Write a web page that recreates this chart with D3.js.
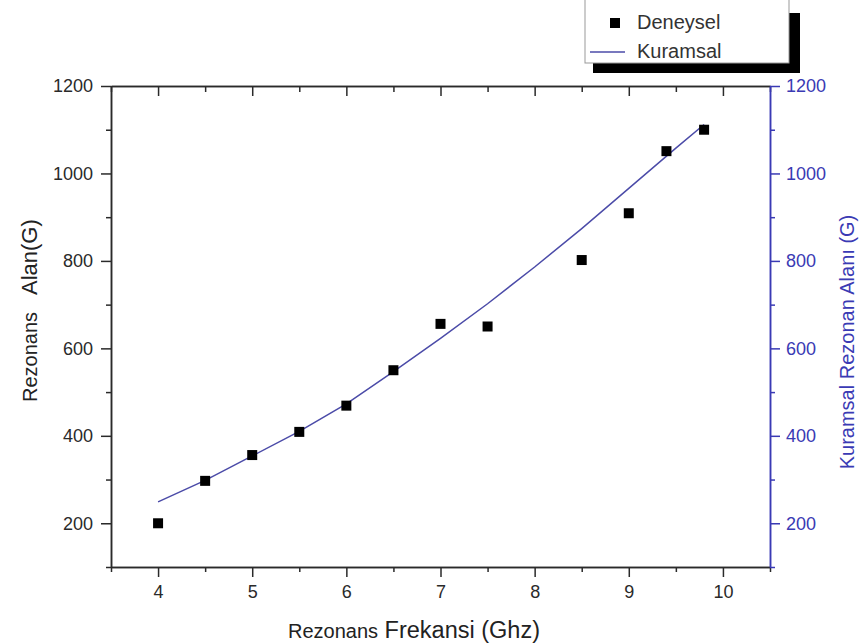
<!DOCTYPE html>
<html>
<head>
<meta charset="utf-8">
<script src="https://cdn.jsdelivr.net/npm/d3@7"></script>
<style>
  body { margin: 0; background: #fff; }
  svg { display: block; }
</style>
</head>
<body>
<script>
// measured points (Deneysel)
const freq = [4, 4.5, 5, 5.5, 6, 6.5, 7, 7.5, 8.5, 9, 9.4, 9.8];
const deneysel = [200, 297, 356, 409, 469, 550, 656, 650, 802, 909, 1051, 1100];

// theoretical curve (Kuramsal)
const kuramsalFreq = [4, 4.5, 5, 5.5, 6, 6.5, 7, 7.5, 8, 8.5, 9, 9.5, 9.8];
const kuramsal = [249, 298, 354, 410, 473, 547, 623, 702, 786, 874, 966, 1058, 1112];

// ticks
const xMajor = [4, 5, 6, 7, 8, 9, 10];
const xMinor = [3.5, 4.5, 5.5, 6.5, 7.5, 8.5, 9.5, 10.5];
const yMajor = [200, 400, 600, 800, 1000, 1200];
const yMinor = [100, 300, 500, 700, 900, 1100];

const legendLabels = ["Deneysel", "Kuramsal"];

const W = 859, H = 644;
const plot = { left: 111, right: 770, top: 86, bottom: 567 };
const FONT = "'Liberation Sans', Arial, sans-serif";
const axisColor = "#2a2a2a";
const blue = "#3a3ab4";
const lineColor = "#4b4ba8";

const svg = d3.select("body").append("svg")
  .attr("width", W)
  .attr("height", H)
  .attr("font-family", FONT);

svg.append("rect").attr("width", W).attr("height", H).attr("fill", "#fff");

const xScale = d3.scaleLinear().domain([3.5, 10.5]).range([plot.left, plot.right]);
const yScale = d3.scaleLinear().domain([100, 1200]).range([plot.bottom, plot.top]);

// style helper for axis groups
const styleAxis = (g, color, size) => {
  g.attr("font-family", FONT).attr("font-size", size);
  g.selectAll("path, line").attr("stroke", color).attr("stroke-width", 1.5);
  g.selectAll("text").attr("fill", color);
};

// bottom axis
const axBottom = svg.append("g").attr("transform", `translate(0,${plot.bottom})`);
axBottom.append("g").call(d3.axisBottom(xScale).tickValues(xMinor).tickSize(5).tickSizeOuter(0).tickFormat(""))
  .call((g) => styleAxis(g, axisColor, 18));
axBottom.append("g").call(d3.axisBottom(xScale).tickValues(xMajor).tickSize(10).tickSizeOuter(0).tickPadding(8).tickFormat(d3.format("d")))
  .call((g) => styleAxis(g, axisColor, 18));

// top axis (ticks inward, no labels)
const axTop = svg.append("g").attr("transform", `translate(0,${plot.top})`);
axTop.append("g").call(d3.axisTop(xScale).tickValues(xMinor).tickSize(-6).tickSizeOuter(0).tickFormat(""))
  .call((g) => styleAxis(g, axisColor, 18));
axTop.append("g").call(d3.axisTop(xScale).tickValues(xMajor).tickSize(-10).tickSizeOuter(0).tickFormat(""))
  .call((g) => styleAxis(g, axisColor, 18));

// left axis
const axLeft = svg.append("g").attr("transform", `translate(${plot.left},0)`);
axLeft.append("g").call(d3.axisLeft(yScale).tickValues(yMinor).tickSize(5).tickSizeOuter(0).tickFormat(""))
  .call((g) => styleAxis(g, axisColor, 18));
axLeft.append("g").call(d3.axisLeft(yScale).tickValues(yMajor).tickSize(10).tickSizeOuter(0).tickPadding(8).tickFormat(d3.format("d")))
  .call((g) => styleAxis(g, axisColor, 18));

// right axis (blue)
const axRight = svg.append("g").attr("transform", `translate(${plot.right},0)`);
axRight.append("g").call(d3.axisRight(yScale).tickValues(yMinor).tickSize(5).tickSizeOuter(0).tickFormat(""))
  .call((g) => styleAxis(g, blue, 18));
axRight.append("g").call(d3.axisRight(yScale).tickValues(yMajor).tickSize(10).tickSizeOuter(0).tickPadding(6).tickFormat(d3.format("d")))
  .call((g) => styleAxis(g, blue, 18));

// theoretical line
const line = d3.line()
  .x((d) => xScale(d[0]))
  .y((d) => yScale(d[1]));

svg.append("path")
  .datum(kuramsalFreq.map((f, i) => [f, kuramsal[i]]))
  .attr("fill", "none")
  .attr("stroke", lineColor)
  .attr("stroke-width", 1.5)
  .attr("d", line);

// measured squares
const sq = 10;
svg.append("g")
  .selectAll("rect")
  .data(freq.map((f, i) => [f, deneysel[i]]))
  .enter()
  .append("rect")
  .attr("x", (d) => xScale(d[0]) - sq / 2)
  .attr("y", (d) => yScale(d[1]) - sq / 2)
  .attr("width", sq)
  .attr("height", sq)
  .attr("fill", "#000");

// axis titles
const xTitle = svg.append("text")
  .attr("x", 288)
  .attr("y", 638)
  .attr("fill", "#222");
xTitle.append("tspan").attr("font-size", 20).text("Rezonans");
xTitle.append("tspan").attr("font-size", 23.5).text(" Frekansi (Ghz)");

const yTitle = svg.append("text")
  .attr("transform", "translate(37,402) rotate(-90)")
  .attr("fill", "#222");
yTitle.append("tspan").attr("font-size", 20).text("Rezonans");
yTitle.append("tspan").attr("font-size", 22).attr("dx", 12).text(" Alan(G)");

svg.append("text")
  .attr("transform", "translate(854,342) rotate(-90)")
  .attr("text-anchor", "middle")
  .attr("font-size", 20)
  .attr("fill", blue)
  .text("Kuramsal Rezonan Alanı (G)");

// legend with drop shadow
const legend = svg.append("g");
legend.append("rect")
  .attr("x", 593).attr("y", 13)
  .attr("width", 207).attr("height", 60)
  .attr("fill", "#000");
legend.append("rect")
  .attr("x", 585).attr("y", -20)
  .attr("width", 204).attr("height", 83)
  .attr("fill", "#fff")
  .attr("stroke", "#999")
  .attr("stroke-width", 1);

legend.append("rect")
  .attr("x", 610).attr("y", 18)
  .attr("width", sq).attr("height", sq)
  .attr("fill", "#000");
legend.append("line")
  .attr("x1", 590).attr("x2", 625)
  .attr("y1", 52).attr("y2", 52)
  .attr("stroke", lineColor)
  .attr("stroke-width", 1.5);

legend.selectAll("text.lbl")
  .data(legendLabels)
  .enter()
  .append("text")
  .attr("class", "lbl")
  .attr("x", 637)
  .attr("y", (d, i) => 29 + i * 29)
  .attr("font-size", 20)
  .attr("fill", "#333")
  .text((d) => d);
</script>
</body>
</html>
